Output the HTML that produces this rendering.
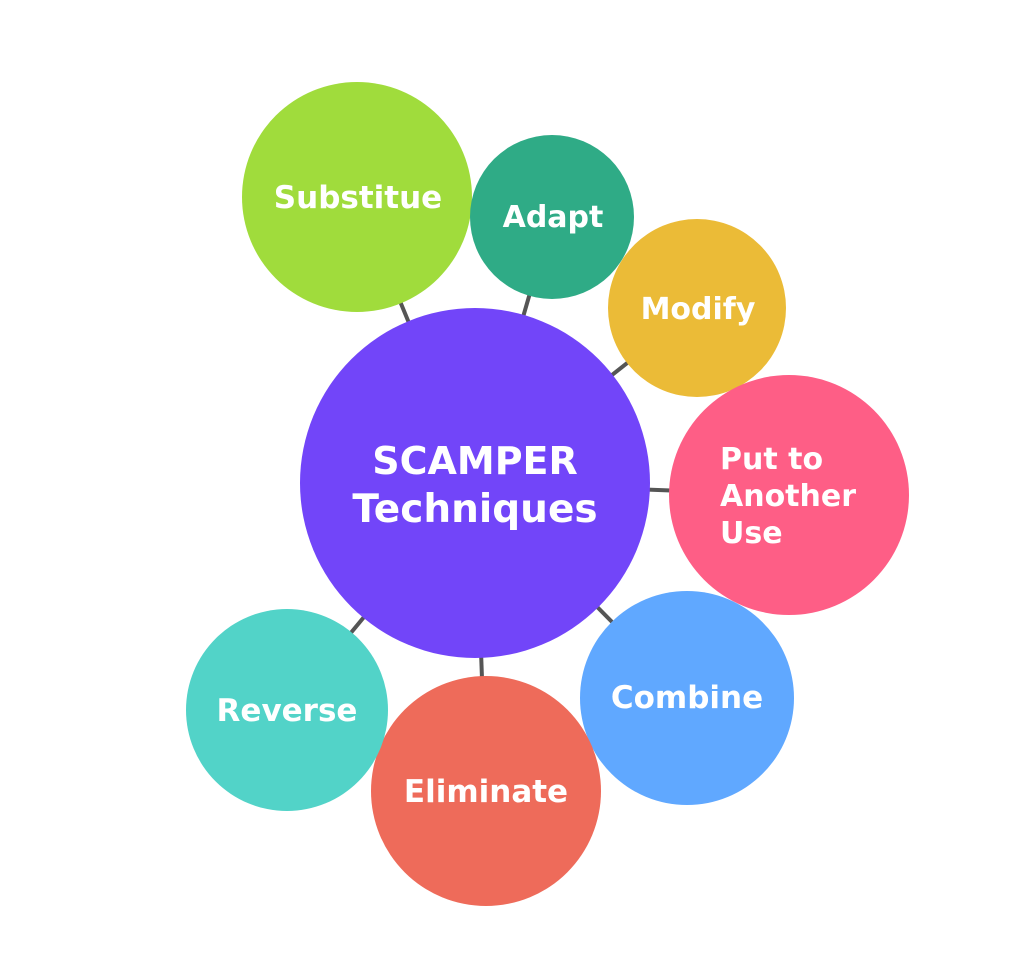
<!DOCTYPE html>
<html><head><meta charset="utf-8"><style>
html,body{margin:0;padding:0;background:#fff;width:1024px;height:969px;overflow:hidden}
text{font-family:"DejaVu Sans","Liberation Sans",sans-serif;font-weight:bold;fill:#fff}
</style></head><body>
<svg width="1024" height="969" viewBox="0 0 1024 969" xmlns="http://www.w3.org/2000/svg">
<g stroke="#555" stroke-width="4">
<line x1="475" y1="483" x2="357" y2="197"/>
<line x1="475" y1="483" x2="552" y2="217"/>
<line x1="475" y1="483" x2="697" y2="308"/>
<line x1="475" y1="483" x2="789" y2="495"/>
<line x1="475" y1="483" x2="687" y2="698"/>
<line x1="475" y1="483" x2="486" y2="791"/>
<line x1="475" y1="483" x2="287" y2="710"/>
</g>
<circle cx="357" cy="197" r="115" fill="#a0dc3c"/>
<circle cx="552" cy="217" r="82" fill="#2fab86"/>
<circle cx="697" cy="308" r="89" fill="#ebbb37"/>
<circle cx="789" cy="495" r="120" fill="#fe5e86"/>
<circle cx="687" cy="698" r="107" fill="#60a8ff"/>
<circle cx="486" cy="791" r="115" fill="#ee6b5a"/>
<circle cx="287" cy="710" r="101" fill="#52d3c8"/>
<circle cx="475" cy="483" r="175" fill="#7245f9"/>
<text x="475" y="474" font-size="38" text-anchor="middle">SCAMPER</text>
<text x="475" y="522" font-size="39" text-anchor="middle">Techniques</text>
<text x="358" y="208" font-size="31" text-anchor="middle">Substitue</text>
<text x="553" y="227" font-size="30" text-anchor="middle">Adapt</text>
<text x="698" y="319" font-size="30" text-anchor="middle">Modify</text>
<text x="720" y="469" font-size="30">Put to</text>
<text x="720" y="506" font-size="30">Another</text>
<text x="720" y="543" font-size="30">Use</text>
<text x="687" y="708" font-size="31" text-anchor="middle">Combine</text>
<text x="486" y="802" font-size="31" text-anchor="middle">Eliminate</text>
<text x="287" y="721" font-size="31" text-anchor="middle">Reverse</text>
</svg>
</body></html>
